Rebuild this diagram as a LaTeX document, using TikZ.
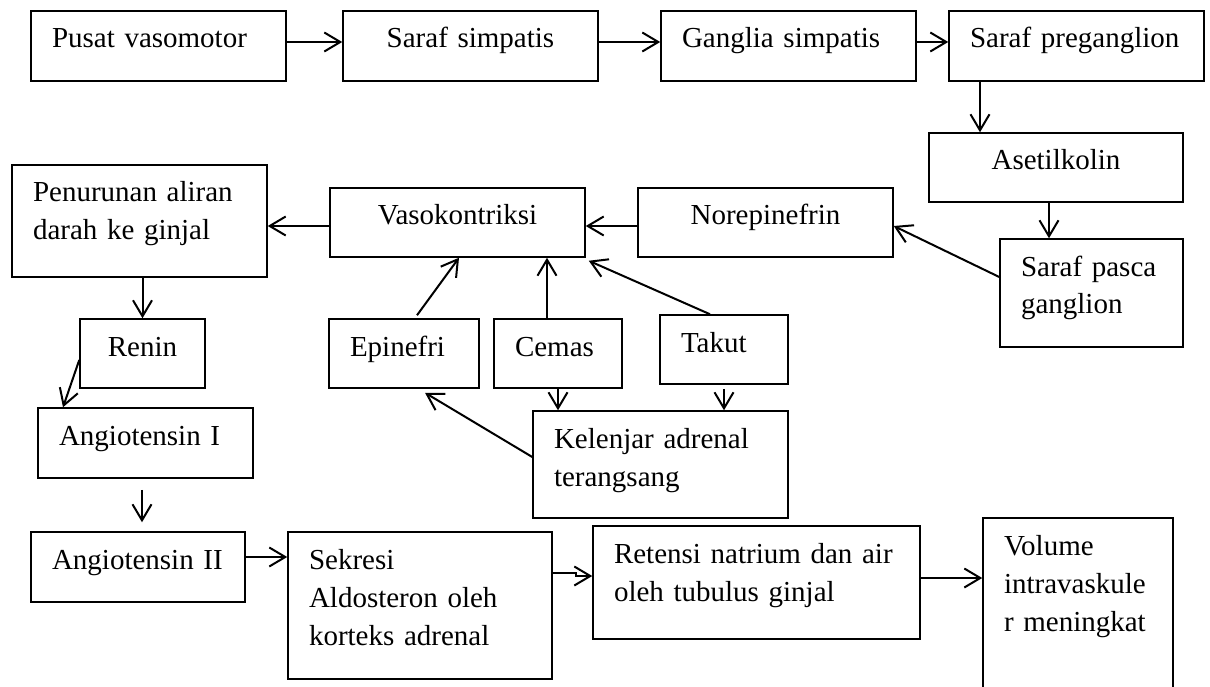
\documentclass[tikz,border=0pt]{standalone}
\usepackage{fontspec}
\setmainfont{Liberation Serif}
\usetikzlibrary{arrows.meta}

\begin{document}
\begin{tikzpicture}[
		x=1pt, y=-1pt,
		box/.style={rectangle, draw, line width=1.5pt, inner xsep=21pt, inner ysep=0pt,
			text height=37pt, align=left, font=\fontsize{29}{38}\selectfont},
		mid/.style={align=center},
		flow/.style={line width=2pt, -{Straight Barb[length=16pt, width=19pt]}}
	]
  \useasboundingbox (0,0) rectangle (1210,687);
  \node (pusat) [box, text width=213pt, text depth=33pt] at (158.5, 46) {Pusat vasomotor};
  \node (simpatis) [box, mid, text width=213pt, text depth=33pt] at (470.5, 46) {Saraf simpatis};
  \node (ganglia) [box, text width=213pt, text depth=33pt] at (788.5, 46) {Ganglia simpatis};
  \node (pregang) [box, text width=213pt, text depth=33pt] at (1076.5, 46) {Saraf preganglion};
  \node (asetil) [box, mid, text width=212pt, text depth=32pt] at (1056, 167.5) {Asetilkolin};
  \node (pasca) [box, text width=141pt, text depth=71pt] at (1091.5, 293) {Saraf pasca\\ganglion};
  \node (norepi) [box, mid, text width=213pt, text depth=32pt] at (765.5, 222.5) {Norepinefrin};
  \node (vaso) [box, mid, text width=213pt, text depth=32pt] at (457.5, 222.5) {Vasokontriksi};
  \node (turun) [box, text width=213pt, text depth=75pt] at (139.5, 221) {Penurunan aliran\\darah ke ginjal};
  \node (renin) [box, mid, text width=83pt, text depth=32pt] at (142.5, 353.5) {Renin};
  \node (angio1) [box, text width=173pt, text depth=33pt] at (145.5, 443) {Angiotensin I};
  \node (angio2) [box, text width=172pt, text depth=33pt] at (138, 567) {Angiotensin II};
  \node (epinefri) [box, text width=108pt, text depth=32pt] at (404, 353.5) {Epinefri};
  \node (cemas) [box, text width=86pt, text depth=32pt] at (558, 353.5) {Cemas};
  \node (takut) [box, text width=86pt, text depth=32pt] at (724, 349.5) {Takut};
  \node (kelenjar) [box, text width=213pt, text depth=70pt] at (660.5, 464.5) {Kelenjar adrenal\\terangsang};
  \node (sekresi) [box, text width=222pt, text depth=110pt] at (420, 605.5) {Sekresi\\Aldosteron oleh\\korteks adrenal};
  \node (retensi) [box, text width=285pt, text depth=76pt] at (756.5, 582.5) {Retensi natrium dan air\\oleh tubulus ginjal};
  \node (volume) [box, text width=148pt, text depth=135pt] at (1078, 604) {Volume\\intravaskule\\r meningkat};
  \draw [flow] ([yshift=4pt]pusat.east) -- ([yshift=4pt]simpatis.west);
  \draw [flow] ([yshift=4pt]simpatis.east) -- ([yshift=4pt]ganglia.west);
  \draw [flow] ([yshift=4pt]ganglia.east) -- ([yshift=4pt]pregang.west);
  \draw [flow] ([xshift=-96.5pt]pregang.south) -- ([xshift=-76pt]asetil.north);
  \draw [flow] ([xshift=-7pt]asetil.south) -- ([xshift=-42.5pt]pasca.north);
  \draw [flow] ([yshift=16pt]pasca.west) -- ([yshift=-3.5pt]norepi.east);
  \draw [flow] ([yshift=-3.5pt]norepi.west) -- ([yshift=-3.5pt]vaso.east);
  \draw [flow] ([yshift=-3.5pt]vaso.west) -- ([yshift=-5pt]turun.east);
  \draw [flow] (renin.north |- turun.south) -- (renin.north);
  \draw [flow] ([yshift=-6.5pt]renin.west) -- ([xshift=-82.5pt]angio1.north);
  \draw [flow, shorten <=11pt, shorten >=9pt] ([xshift=-3.5pt]angio1.south) -- ([xshift=4pt]angio2.north);
  \draw [flow] ([yshift=10pt]angio2.east) -- ([yshift=48.5pt]sekresi.west);
  \draw [flow] ([yshift=32.5pt]sekresi.east) -- ++(23,0) |- ([yshift=6.5pt]retensi.west);
  \draw [flow] ([yshift=4.5pt]retensi.east) -- ([yshift=26pt]volume.west);
  \draw [flow] ([xshift=13pt, yshift=3pt]epinefri.north) -- ([xshift=1.5pt]vaso.south);
  \draw [flow] ([xshift=-11pt]cemas.north) -- ([xshift=-11pt]cemas.north |- vaso.south);
  \draw [flow] ([xshift=-14pt]takut.north) -- ([xshift=3pt, yshift=-3pt]vaso.south east);
  \draw [flow] (cemas.south) -- (cemas.south |- kelenjar.north);
  \draw [flow, shorten <=4pt] (takut.south) -- (takut.south |- kelenjar.north);
  \draw [flow] ([yshift=7.5pt]kelenjar.west) -- ([xshift=21pt, yshift=-4pt]epinefri.south);
\end{tikzpicture}
\end{document}
